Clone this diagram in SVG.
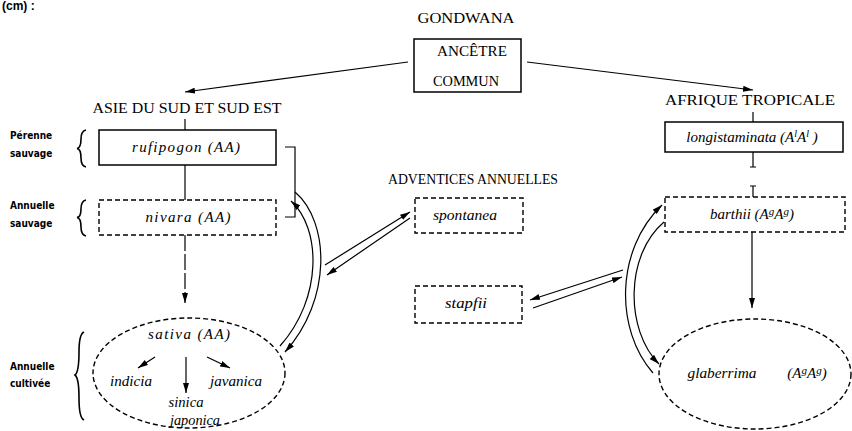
<svg xmlns="http://www.w3.org/2000/svg" width="852" height="431" viewBox="0 0 852 431">
<defs>
<marker id="ah" markerUnits="userSpaceOnUse" markerWidth="10" markerHeight="6" refX="10" refY="3" orient="auto">
<path d="M0,0 L10,3 L0,6 z" fill="#000"/>
</marker>
<style>
.cap{font-family:"Liberation Serif",serif;font-size:15px;fill:#000}
.sp{font-family:"Liberation Serif",serif;font-style:italic;font-size:15px;fill:#000}
.lab{font-family:"Liberation Sans Narrow","DejaVu Sans Condensed",sans-serif;font-weight:bold;font-size:10px;fill:#000}
.box{fill:none;stroke:#000;stroke-width:1.5}
.dbox{fill:none;stroke:#000;stroke-width:1.4;stroke-dasharray:5 3}
.ln{fill:none;stroke:#000;stroke-width:1.2}
.br{fill:none;stroke:#000;stroke-width:1.6}
</style>
</defs>
<rect width="852" height="431" fill="#fff"/>
<text x="2" y="10" font-family="Liberation Sans,sans-serif" font-size="12" font-weight="bold">(cm) :</text>

<text class="cap" x="466" y="23" text-anchor="middle" textLength="97" lengthAdjust="spacingAndGlyphs">GONDWANA</text>
<text class="cap" x="187" y="113" text-anchor="middle" textLength="189" lengthAdjust="spacingAndGlyphs">ASIE DU SUD ET SUD EST</text>
<text class="cap" x="750" y="105" text-anchor="middle" textLength="170" lengthAdjust="spacingAndGlyphs">AFRIQUE TROPICALE</text>
<text class="cap" x="473" y="184" text-anchor="middle" textLength="170" lengthAdjust="spacingAndGlyphs">ADVENTICES ANNUELLES</text>

<g id="labels">
<text class="lab" x="10" y="139">Pérenne</text>
<text class="lab" x="10" y="157">sauvage</text>
<text class="lab" x="10" y="209">Annuelle</text>
<text class="lab" x="10" y="227">sauvage</text>
<text class="lab" x="10" y="370">Annuelle</text>
<text class="lab" x="10" y="387">cultivée</text>
<path class="br" d="M86,130 Q81,131 81,139 Q81,148 77,148.5 Q81,149 81,158 Q81,166 86,167"/>
<path class="br" d="M86,200 Q81,201 81,209 Q81,217 77,217.5 Q81,218 81,227 Q81,235 86,236"/>
<path class="br" d="M84,332 Q79,334 79,352 Q79,372 75,375 Q79,378 79,398 Q79,418 84,420"/>
</g>

<g id="ancetre">
<rect class="box" x="414" y="39" width="107" height="53"/>
<text class="cap" x="472" y="56" text-anchor="middle" textLength="70" lengthAdjust="spacingAndGlyphs">ANCÊTRE</text>
<text class="cap" x="466" y="86" text-anchor="middle" textLength="66" lengthAdjust="spacingAndGlyphs">COMMUN</text>
</g>

<g id="rufipogon">
<rect class="box" x="99" y="130" width="177" height="35"/>
<text class="sp" x="186" y="152" text-anchor="middle" textLength="108" lengthAdjust="spacing">rufipogon  (AA)</text>
</g>
<g id="nivara">
<rect class="dbox" x="99" y="200" width="177" height="35"/>
<text class="sp" x="188" y="222" text-anchor="middle" textLength="85" lengthAdjust="spacing">nivara  (AA)</text>
</g>
<g id="sativa">
<ellipse class="dbox" cx="189" cy="373" rx="96" ry="55"/>
<text class="sp" x="189" y="339" text-anchor="middle" textLength="82" lengthAdjust="spacing">sativa   (AA)</text>
<text class="sp" x="131" y="386" text-anchor="middle" textLength="42" lengthAdjust="spacingAndGlyphs">indicia</text>
<text class="sp" x="236" y="386" text-anchor="middle" textLength="52" lengthAdjust="spacingAndGlyphs">javanica</text>
<text class="sp" x="186" y="407" text-anchor="middle" textLength="35" lengthAdjust="spacingAndGlyphs">sinica</text>
<text class="sp" x="195" y="425" text-anchor="middle" textLength="50" lengthAdjust="spacingAndGlyphs">japonica</text>
</g>
<g id="spontanea">
<rect class="dbox" x="415" y="198" width="108" height="35"/>
<text class="sp" x="465" y="220" text-anchor="middle" textLength="64" lengthAdjust="spacingAndGlyphs">spontanea</text>
</g>
<g id="stapfii">
<rect class="dbox" x="415" y="286" width="107" height="37"/>
<text class="sp" x="466" y="308" text-anchor="middle" textLength="42" lengthAdjust="spacingAndGlyphs">stapfii</text>
</g>
<g id="longistaminata">
<rect class="box" x="665" y="122" width="178" height="30"/>
<text class="sp" x="752" y="142" text-anchor="middle">longistaminata (A<tspan font-size="10" dy="-5">l</tspan><tspan dy="5">A</tspan><tspan font-size="10" dy="-5">l</tspan><tspan dy="5"> )</tspan></text>
</g>
<g id="barthii">
<rect class="dbox" x="665" y="197" width="180" height="35"/>
<text class="sp" x="752" y="219" text-anchor="middle">barthii    (A<tspan font-size="11" dy="-4">g</tspan><tspan dy="4">A</tspan><tspan font-size="11" dy="-4">g</tspan><tspan dy="4">)</tspan></text>
</g>
<g id="glaberrima">
<ellipse class="dbox" cx="755" cy="374" rx="96" ry="55"/>
<text class="sp" x="722" y="378" text-anchor="middle" textLength="69" lengthAdjust="spacingAndGlyphs">glaberrima</text>
<text class="sp" x="807" y="378" text-anchor="middle">(A<tspan font-size="11" dy="-4">g</tspan><tspan dy="4">A</tspan><tspan font-size="11" dy="-4">g</tspan><tspan dy="4">)</tspan></text>
</g>

<g id="connectors">
<line class="ln" x1="408" y1="62" x2="185" y2="92" marker-end="url(#ah)"/>
<line class="ln" x1="527" y1="62" x2="753" y2="90" marker-end="url(#ah)"/>
<line class="ln" x1="185" y1="119" x2="185" y2="130"/>
<line class="ln" x1="185" y1="165" x2="185" y2="200"/>
<line class="ln" x1="185" y1="235" x2="185" y2="303" stroke-dasharray="16 3" marker-end="url(#ah)"/>
<path class="ln" d="M285,147 H295 V217 H285"/>
<line class="ln" x1="753" y1="112" x2="753" y2="122"/>
<path class="ln" d="M753,152 V167 M750,167 H756 M750,186 H756 M753,186 V197" stroke-width="1.6"/>
<line class="ln" x1="752" y1="232" x2="752" y2="308" marker-end="url(#ah)"/>
<line class="ln" x1="155" y1="357" x2="138" y2="368" marker-end="url(#ah)"/>
<line class="ln" x1="186" y1="357" x2="186" y2="393" marker-end="url(#ah)"/>
<line class="ln" x1="207" y1="357" x2="230" y2="368" marker-end="url(#ah)"/>
<path class="ln" d="M295,192 C330,222 332,300 285,352" stroke-width="1.5" marker-end="url(#ah)"/>
<path class="ln" d="M280,346 C323,298 321,228 291,201" stroke-width="1.5" marker-end="url(#ah)"/>
<line class="ln" x1="325" y1="265" x2="410" y2="212" marker-end="url(#ah)"/>
<line class="ln" x1="410" y1="218" x2="327" y2="275" marker-end="url(#ah)"/>
<line class="ln" x1="623" y1="270" x2="530" y2="300" marker-end="url(#ah)"/>
<line class="ln" x1="533" y1="308" x2="622" y2="277" marker-end="url(#ah)"/>
<path class="ln" d="M653,373 C615,330 615,250 662,205" stroke-width="1.5" marker-end="url(#ah)"/>
<path class="ln" d="M664,222 C625,255 625,330 659,364" stroke-width="1.5" marker-end="url(#ah)"/>
</g>
</svg>
